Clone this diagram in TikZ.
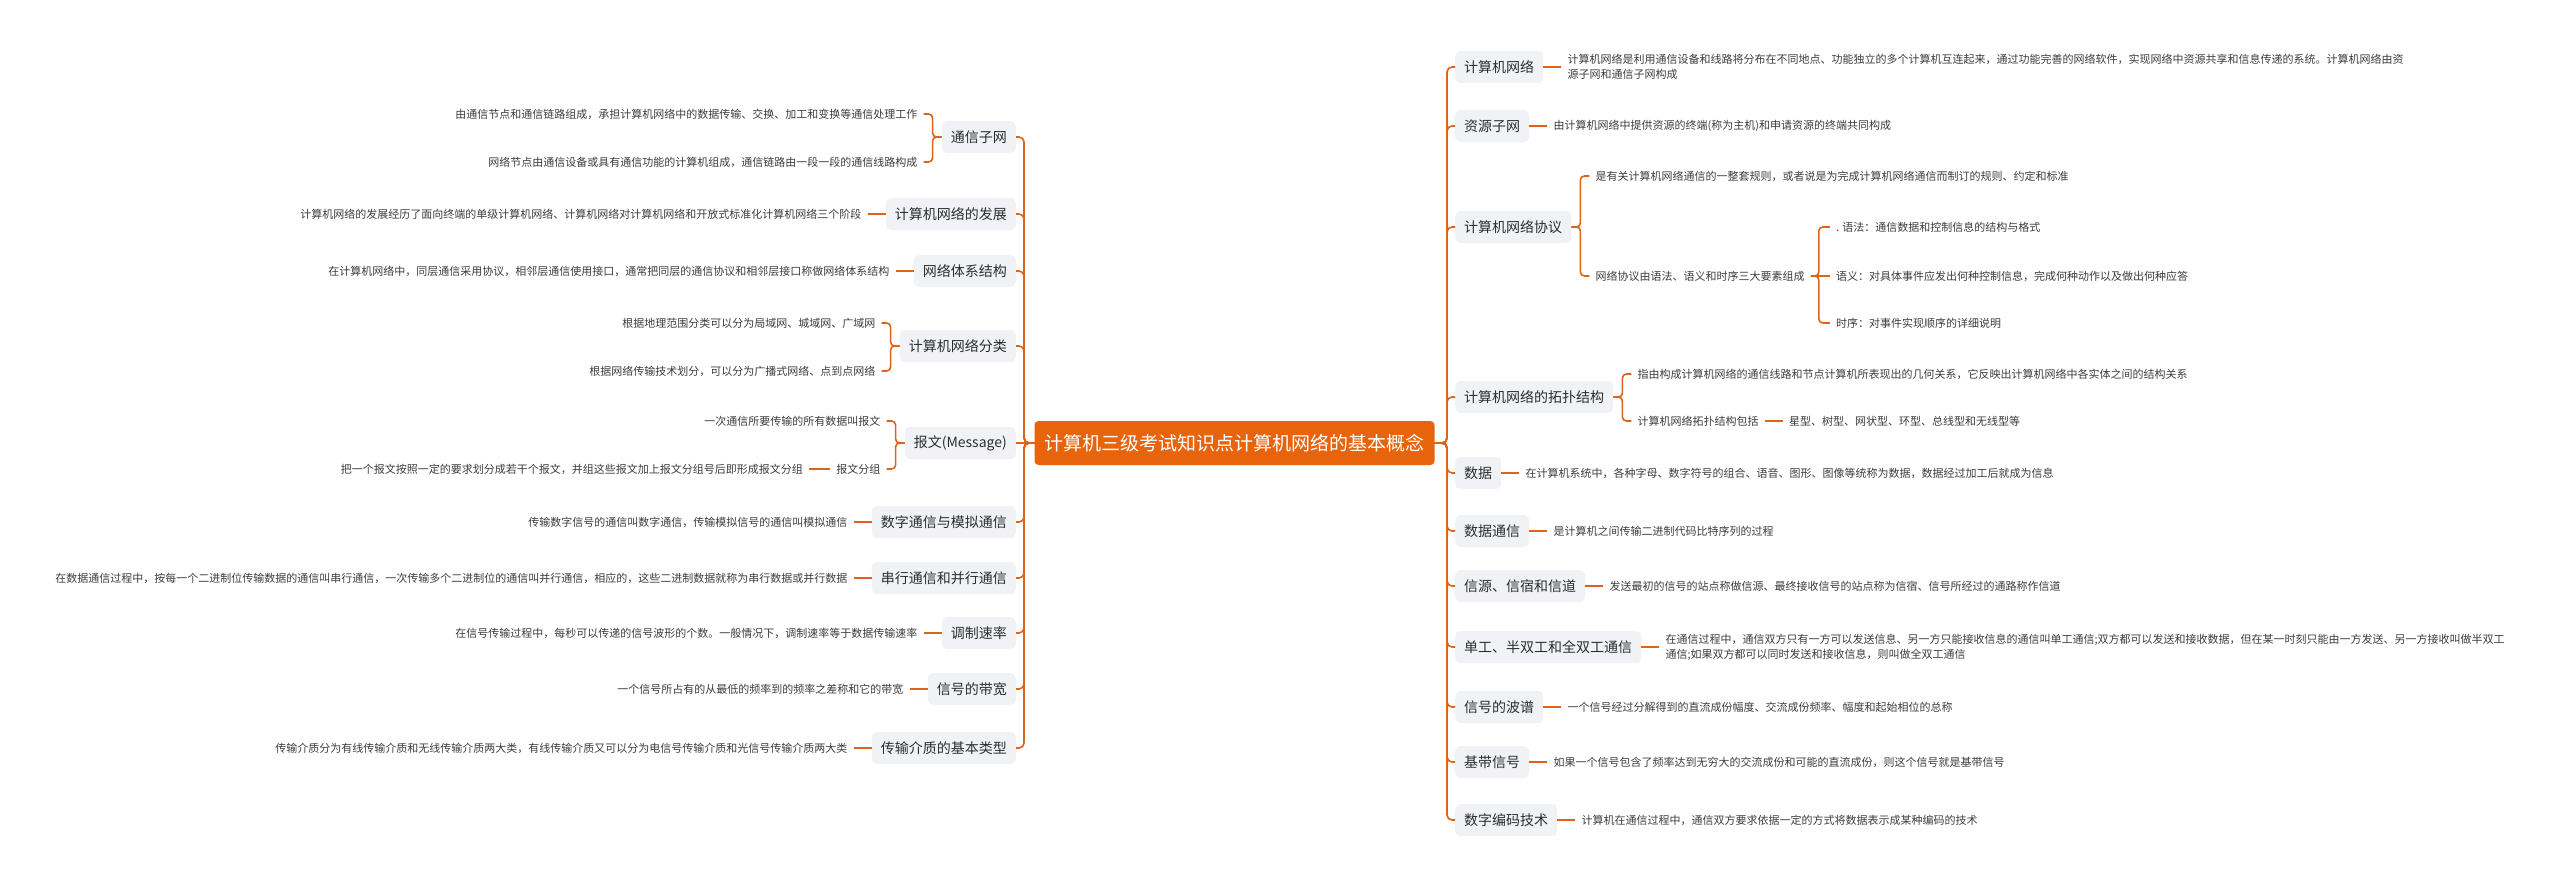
\documentclass[tikz,border=0pt]{standalone}
\usepackage{fontspec}
\newfontfamily\cjk{Noto Sans CJK SC}
\definecolor{lineor}{RGB}{222,100,28}
\definecolor{centeror}{RGB}{232,100,12}
\definecolor{boxgray}{RGB}{240,242,245}
\definecolor{txt}{RGB}{45,45,45}
\definecolor{leaftxt}{RGB}{60,60,60}
\begin{document}
\begin{tikzpicture}[x=1pt,y=-1pt,
  conn/.style={draw=lineor, line width=1.6pt, rounded corners=5pt},
  bconn/.style={draw=lineor, line width=1.6pt, rounded corners=4pt},
  centerbox/.style={fill=centeror, text=white, rounded corners=4pt, inner xsep=10pt, minimum height=44pt, font=\cjk\fontsize{19}{22}\selectfont},
  branch/.style={fill=boxgray, text=txt, rounded corners=5pt, inner xsep=9pt, minimum height=32pt, font=\cjk\fontsize{14}{16}\selectfont},
  leafL/.style={anchor=east, text=leaftxt, inner xsep=6pt, inner ysep=2pt, font=\cjk\fontsize{11}{15}\selectfont, align=right},
  leafR/.style={anchor=west, text=leaftxt, inner xsep=6pt, inner ysep=2pt, font=\cjk\fontsize{11}{15}\selectfont, align=left},
]
\useasboundingbox (0,0) rectangle (2560,883);
\node[centerbox] (C) at (1234.5,443) {计算机三级考试知识点计算机网络的基本概念};

% ---------- left branches ----------
\node[branch, anchor=east] (L1) at (1016,137) {通信子网};
\node[branch, anchor=east] (L2) at (1016,214) {计算机网络的发展};
\node[branch, anchor=east] (L3) at (1016,271) {网络体系结构};
\node[branch, anchor=east] (L4) at (1016,346) {计算机网络分类};
\node[branch, anchor=east] (L5) at (1016,443) {报文(Message)};
\node[branch, anchor=east] (L6) at (1016,522) {数字通信与模拟通信};
\node[branch, anchor=east] (L7) at (1016,578) {串行通信和并行通信};
\node[branch, anchor=east] (L8) at (1016,633) {调制速率};
\node[branch, anchor=east] (L9) at (1016,689) {信号的带宽};
\node[branch, anchor=east] (L10) at (1016,748) {传输介质的基本类型};

\foreach \b in {L1,L2,L3,L4,L6,L7,L8,L9,L10}{
  \draw[conn] (C.west) -- (1024,443) |- (\b.east);
}
\draw[conn] (C.west) -- (L5.east);

\path (L1.west) ++(-18,-23) node[leafL] (L1a) {由通信节点和通信链路组成，承担计算机网络中的数据传输、交换、加工和变换等通信处理工作};
\path (L1.west) ++(-18,25) node[leafL] (L1b) {网络节点由通信设备或具有通信功能的计算机组成，通信链路由一段一段的通信线路构成};
\draw[bconn] (L1.west) -- ++(-9,0) |- (L1a.east);
\draw[bconn] (L1.west) -- ++(-9,0) |- (L1b.east);

\path (L2.west) ++(-18,0) node[leafL] (L2a) {计算机网络的发展经历了面向终端的单级计算机网络、计算机网络对计算机网络和开放式标准化计算机网络三个阶段};
\draw[conn] (L2.west) -- (L2a.east);

\path (L3.west) ++(-18,0) node[leafL] (L3a) {在计算机网络中，同层通信采用协议，相邻层通信使用接口，通常把同层的通信协议和相邻层接口称做网络体系结构};
\draw[conn] (L3.west) -- (L3a.east);

\path (L4.west) ++(-18,-23) node[leafL] (L4a) {根据地理范围分类可以分为局域网、城域网、广域网};
\path (L4.west) ++(-18,25) node[leafL] (L4b) {根据网络传输技术划分，可以分为广播式网络、点到点网络};
\draw[bconn] (L4.west) -- ++(-9,0) |- (L4a.east);
\draw[bconn] (L4.west) -- ++(-9,0) |- (L4b.east);

\path (L5.west) ++(-18,-22) node[leafL] (L5a) {一次通信所要传输的所有数据叫报文};
\path (L5.west) ++(-18,26) node[leafL] (L5b) {报文分组};
\draw[bconn] (L5.west) -- ++(-9,0) |- (L5a.east);
\draw[bconn] (L5.west) -- ++(-9,0) |- (L5b.east);
\path (L5b.west) ++(-21,0) node[leafL] (L5b1) {把一个报文按照一定的要求划分成若干个报文，并组这些报文加上报文分组号后即形成报文分组};
\draw[conn] (L5b.west) -- (L5b1.east);

\path (L6.west) ++(-18,0) node[leafL] (L6a) {传输数字信号的通信叫数字通信，传输模拟信号的通信叫模拟通信};
\draw[conn] (L6.west) -- (L6a.east);

\path (L7.west) ++(-18,0) node[leafL] (L7a) {在数据通信过程中，按每一个二进制位传输数据的通信叫串行通信，一次传输多个二进制位的通信叫并行通信，相应的，这些二进制数据就称为串行数据或并行数据};
\draw[conn] (L7.west) -- (L7a.east);

\path (L8.west) ++(-18,0) node[leafL] (L8a) {在信号传输过程中，每秒可以传递的信号波形的个数。一般情况下，调制速率等于数据传输速率};
\draw[conn] (L8.west) -- (L8a.east);

\path (L9.west) ++(-18,0) node[leafL] (L9a) {一个信号所占有的从最低的频率到的频率之差称和它的带宽};
\draw[conn] (L9.west) -- (L9a.east);

\path (L10.west) ++(-18,0) node[leafL] (L10a) {传输介质分为有线传输介质和无线传输介质两大类，有线传输介质又可以分为电信号传输介质和光信号传输介质两大类};
\draw[conn] (L10.west) -- (L10a.east);

% ---------- right branches ----------
\node[branch, anchor=west] (R1) at (1455,67) {计算机网络};
\node[branch, anchor=west] (R2) at (1455,126) {资源子网};
\node[branch, anchor=west] (R3) at (1455,227) {计算机网络协议};
\node[branch, anchor=west] (R4) at (1455,397) {计算机网络的拓扑结构};
\node[branch, anchor=west] (R5) at (1455,473) {数据};
\node[branch, anchor=west] (R6) at (1455,531) {数据通信};
\node[branch, anchor=west] (R7) at (1455,586) {信源、信宿和信道};
\node[branch, anchor=west] (R8) at (1455,647) {单工、半双工和全双工通信};
\node[branch, anchor=west] (R9) at (1455,707) {信号的波谱};
\node[branch, anchor=west] (R10) at (1455,762) {基带信号};
\node[branch, anchor=west] (R11) at (1455,820) {数字编码技术};

\foreach \b in {R1,R2,R3,R4,R5,R6,R7,R8,R9,R10,R11}{
  \draw[conn] (C.east) -- (1447,443) |- (\b.west);
}

\path (R1.east) ++(18,0) node[leafR] (R1a) {计算机网络是利用通信设备和线路将分布在不同地点、功能独立的多个计算机互连起来，通过功能完善的网络软件，实现网络中资源共享和信息传递的系统。计算机网络由资\\源子网和通信子网构成};
\draw[conn] (R1.east) -- (R1a.west);

\path (R2.east) ++(18,0) node[leafR] (R2a) {由计算机网络中提供资源的终端(称为主机)和申请资源的终端共同构成};
\draw[conn] (R2.east) -- (R2a.west);

\path (R3.east) ++(18,-51) node[leafR] (R3a) {是有关计算机网络通信的一整套规则，或者说是为完成计算机网络通信而制订的规则、约定和标准};
\path (R3.east) ++(18,49) node[leafR] (R3b) {网络协议由语法、语义和时序三大要素组成};
\draw[bconn] (R3.east) -- ++(9,0) |- (R3a.west);
\draw[bconn] (R3.east) -- ++(9,0) |- (R3b.west);
\path (R3b.east) ++(19,-49) node[leafR] (R3b1) {. 语法：通信数据和控制信息的结构与格式};
\path (R3b.east) ++(19,0) node[leafR] (R3b2) {语义：对具体事件应发出何种控制信息，完成何种动作以及做出何种应答};
\path (R3b.east) ++(19,47) node[leafR] (R3b3) {时序：对事件实现顺序的详细说明};
\draw[bconn] (R3b.east) -- ++(8,0) |- (R3b1.west);
\draw[conn] (R3b.east) -- (R3b2.west);
\draw[bconn] (R3b.east) -- ++(8,0) |- (R3b3.west);

\path (R4.east) ++(18,-23) node[leafR] (R4a) {指由构成计算机网络的通信线路和节点计算机所表现出的几何关系，它反映出计算机网络中各实体之间的结构关系};
\path (R4.east) ++(18,24) node[leafR] (R4b) {计算机网络拓扑结构包括};
\draw[bconn] (R4.east) -- ++(9,0) |- (R4a.west);
\draw[bconn] (R4.east) -- ++(9,0) |- (R4b.west);
\path (R4b.east) ++(18,0) node[leafR] (R4b1) {星型、树型、网状型、环型、总线型和无线型等};
\draw[conn] (R4b.east) -- (R4b1.west);

\path (R5.east) ++(18,0) node[leafR] (R5a) {在计算机系统中，各种字母、数字符号的组合、语音、图形、图像等统称为数据，数据经过加工后就成为信息};
\draw[conn] (R5.east) -- (R5a.west);

\path (R6.east) ++(18,0) node[leafR] (R6a) {是计算机之间传输二进制代码比特序列的过程};
\draw[conn] (R6.east) -- (R6a.west);

\path (R7.east) ++(18,0) node[leafR] (R7a) {发送最初的信号的站点称做信源、最终接收信号的站点称为信宿、信号所经过的通路称作信道};
\draw[conn] (R7.east) -- (R7a.west);

\path (R8.east) ++(18,0) node[leafR] (R8a) {在通信过程中，通信双方只有一方可以发送信息、另一方只能接收信息的通信叫单工通信;双方都可以发送和接收数据，但在某一时刻只能由一方发送、另一方接收叫做半双工\\通信;如果双方都可以同时发送和接收信息，则叫做全双工通信};
\draw[conn] (R8.east) -- (R8a.west);

\path (R9.east) ++(18,0) node[leafR] (R9a) {一个信号经过分解得到的直流成份幅度、交流成份频率、幅度和起始相位的总称};
\draw[conn] (R9.east) -- (R9a.west);

\path (R10.east) ++(18,0) node[leafR] (R10a) {如果一个信号包含了频率达到无穷大的交流成份和可能的直流成份，则这个信号就是基带信号};
\draw[conn] (R10.east) -- (R10a.west);

\path (R11.east) ++(18,0) node[leafR] (R11a) {计算机在通信过程中，通信双方要求依据一定的方式将数据表示成某种编码的技术};
\draw[conn] (R11.east) -- (R11a.west);
\end{tikzpicture}
\end{document}
